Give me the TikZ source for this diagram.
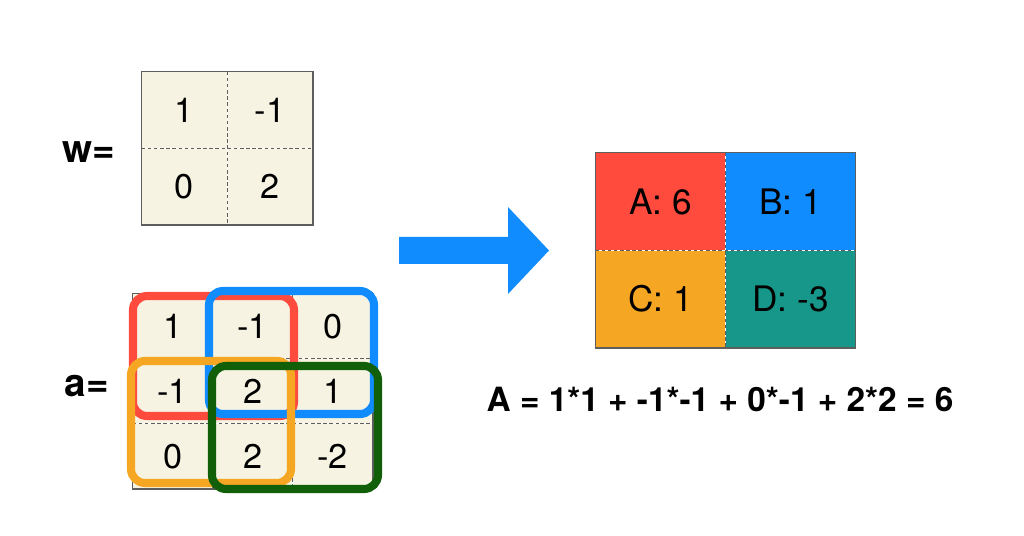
\documentclass[tikz,border=0pt]{standalone}
\usepackage{fontspec}
\setmainfont{TeX Gyre Heros}
\usetikzlibrary{positioning}
\definecolor{cellcream}{HTML}{F6F3E2}
\definecolor{gridgray}{HTML}{5E5E5E}
\definecolor{filtred}{HTML}{FF4B3E}
\definecolor{filtblue}{HTML}{118CFF}
\definecolor{filtorange}{HTML}{F5A623}
\definecolor{filtgreen}{HTML}{125F0A}
\definecolor{outteal}{HTML}{16978A}

\begin{document}
\begin{tikzpicture}[
  x=0.02cm,y=-0.02cm,
  every node/.style={inner sep=0pt},
  wcell/.style={fill=cellcream,minimum width=1.7cm,minimum height=1.52cm,font=\fontsize{19.5}{21}\selectfont},
  acell/.style={wcell,minimum width=1.587cm,minimum height=1.287cm},
  ocell/.style={minimum width=2.59cm,minimum height=1.94cm,font=\fontsize{20}{22}\selectfont},
  border/.style={draw=gridgray,line width=0.8pt},
  divider/.style={draw=gridgray,line width=0.6pt,dash pattern=on 2pt off 1.5pt},
  frame/.style={line width=4.6pt,rounded corners=8pt},
  lbl/.style={font=\bfseries\fontsize{22}{24}\selectfont}
]
  \useasboundingbox (0,0) rectangle (1024,536);

  % weights w
  \node[lbl] (wname) at (89,152) {w=};
  \node[wcell] (w11) at (184.5,110) {1};
  \node[wcell,right=0pt of w11] (w12) {-1};
  \node[wcell,below=0pt of w11] (w21) {0};
  \node[wcell,right=0pt of w21] (w22) {2};
  \draw[divider] (w11.north east) -- (w21.south east);
  \draw[divider] (w11.south west) -- (w12.south east);
  \draw[border] (w11.north west) rectangle (w22.south east);

  % input a
  \node[lbl] (aname) at (87,386) {a=};
  \node[acell] (a11) at (172.7,326.2) {1};
  \node[acell,right=0pt of a11] (a12) {-1};
  \node[acell,right=0pt of a12] (a13) {0};
  \node[acell,below=0pt of a11] (a21) {-1};
  \node[acell,right=0pt of a21] (a22) {2};
  \node[acell,right=0pt of a22] (a23) {1};
  \node[acell,below=0pt of a21] (a31) {0};
  \node[acell,right=0pt of a31] (a32) {2};
  \node[acell,right=0pt of a32] (a33) {-2};
  \draw[divider] (a11.north east) -- (a31.south east);
  \draw[divider] (a12.north east) -- (a32.south east);
  \draw[divider] (a11.south west) -- (a13.south east);
  \draw[divider] (a21.south west) -- (a23.south east);
  \draw[border] (a11.north west) rectangle (a33.south east);

  % filter windows
  \draw[frame,filtred] (133,296) rectangle (294,416);
  \draw[frame,filtblue] (209,291) rectangle (374,414);
  \draw[frame,filtorange] (131,361) rectangle (291,483);
  \draw[frame,filtgreen] (212,366) rectangle (378,489);

  % arrow
  \fill[filtblue] (399,237) -- (508,237) -- (508,207) -- (549,250.5)
    -- (508,294) -- (508,264) -- (399,264) -- cycle;

  % output
  \node[ocell,fill=filtred] (oA) at (660.5,201.5) {A: 6};
  \node[ocell,fill=filtblue,right=0pt of oA] (oB) {B: 1};
  \node[ocell,fill=filtorange,below=0pt of oA] (oC) {C: 1};
  \node[ocell,fill=outteal,right=0pt of oC] (oD) {D: -3};
  \draw[divider] (oA.north east) -- (oC.south east);
  \draw[divider] (oA.south west) -- (oB.south east);
  \draw[border] (oA.north west) rectangle (oD.south east);

  \node[font=\bfseries\fontsize{19}{22}\selectfont] (eq) at (720,399)
    {A = 1*1 + -1*-1 + 0*-1 + 2*2 = 6};
\end{tikzpicture}
\end{document}
